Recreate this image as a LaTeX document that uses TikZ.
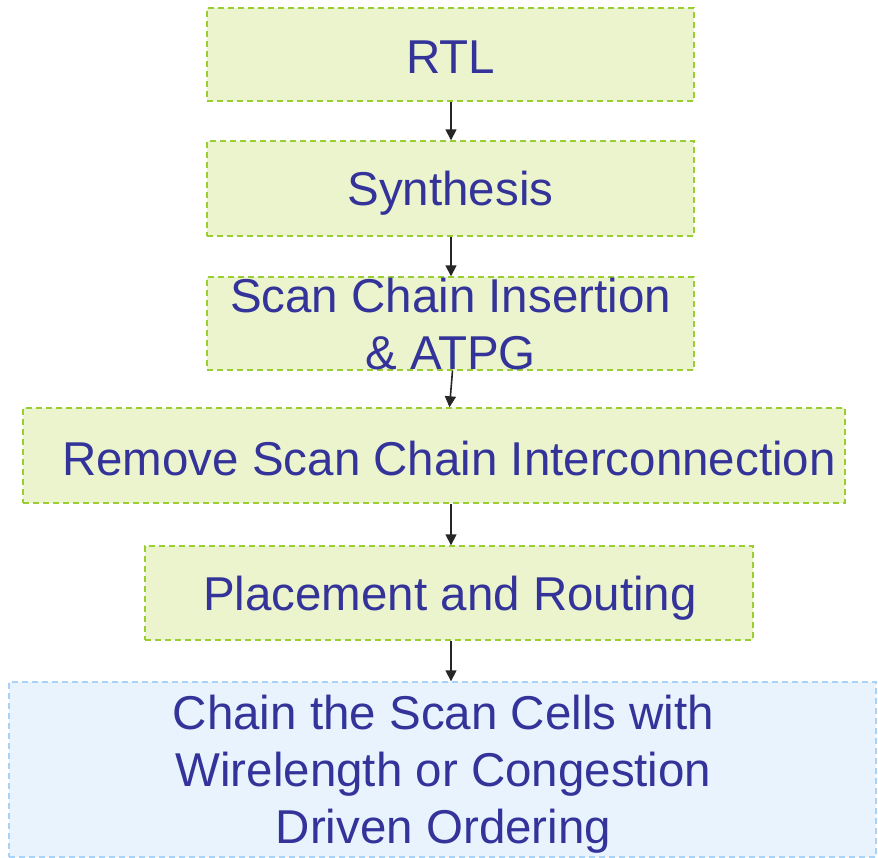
\documentclass[tikz,border=0pt]{standalone}
\usepackage{fontspec}
\setmainfont{Liberation Sans}
\usetikzlibrary{arrows.meta}
\definecolor{flowtext}{HTML}{333399}
\definecolor{greenfill}{HTML}{EBF4CD}
\definecolor{greenedge}{HTML}{9ACD32}
\definecolor{bluefill}{HTML}{E8F3FE}
\definecolor{blueedge}{HTML}{A8D2F8}
\tikzset{
  x=1pt, y=1pt,
  stage/.style={draw=greenedge, fill=greenfill, line width=1.4pt,
    dash pattern=on 6pt off 4pt, rectangle, inner sep=0pt},
  finalstage/.style={stage, draw=blueedge, fill=bluefill},
  stagetext/.style={text=flowtext, align=center, inner sep=0pt,
    font=\fontsize{47.5}{57}\selectfont},
  flowarrow/.style={draw=black!85, line width=1.6pt,
    -{Triangle[length=11pt,width=11pt]}}
}
\begin{document}
\begin{tikzpicture}
\useasboundingbox (0,0) rectangle (878,-858);
% boxes of the flow
\node[stage, minimum width=487, minimum height=93] (rtl) at (450.5,-54.5) {};
\node[stage, minimum width=487, minimum height=95] (syn) at (450.5,-188.5) {};
\node[stage, minimum width=487, minimum height=93] (scan) at (450.5,-323.5) {};
\node[stage, minimum width=822, minimum height=95] (rem) at (434,-455.5) {};
\node[stage, minimum width=608, minimum height=94] (pr) at (449,-593) {};
\node[finalstage, minimum width=867, minimum height=175] (chain) at (442.5,-769.5) {};
% their labels
\node[stagetext] (rtl-t) at ([yshift=-3]rtl.center) {RTL};
\node[stagetext] (syn-t) at ([yshift=-5]syn.center) {Synthesis};
\node[stagetext] (scan-t) at ([yshift=-1]scan.center) {Scan Chain Insertion\\\& ATPG};
\node[stagetext] (rem-t) at ([xshift=15,yshift=-3]rem.center) {Remove Scan Chain Interconnection};
\node[stagetext] (pr-t) at ([xshift=1,yshift=-5]pr.center) {Placement and Routing};
\node[stagetext] (chain-t) at ([xshift=1,yshift=-5]chain.center) {Chain the Scan Cells with\\Wirelength or Congestion\\Driven Ordering};
% connectors
\coordinate (a1) at (451,-101);
\draw[flowarrow] (rtl.south -| a1) -- (syn.north -| a1);
\draw[flowarrow] (syn.south -| a1) -- (scan.north -| a1);
\draw[flowarrow] ([xshift=1.5pt]scan.south -| a1) -- ([xshift=-1.5pt]rem.north -| a1);
\draw[flowarrow] (rem.south -| a1) -- (pr.north -| a1);
\draw[flowarrow] (pr.south -| a1) -- (chain.north -| a1);
\end{tikzpicture}
\end{document}
